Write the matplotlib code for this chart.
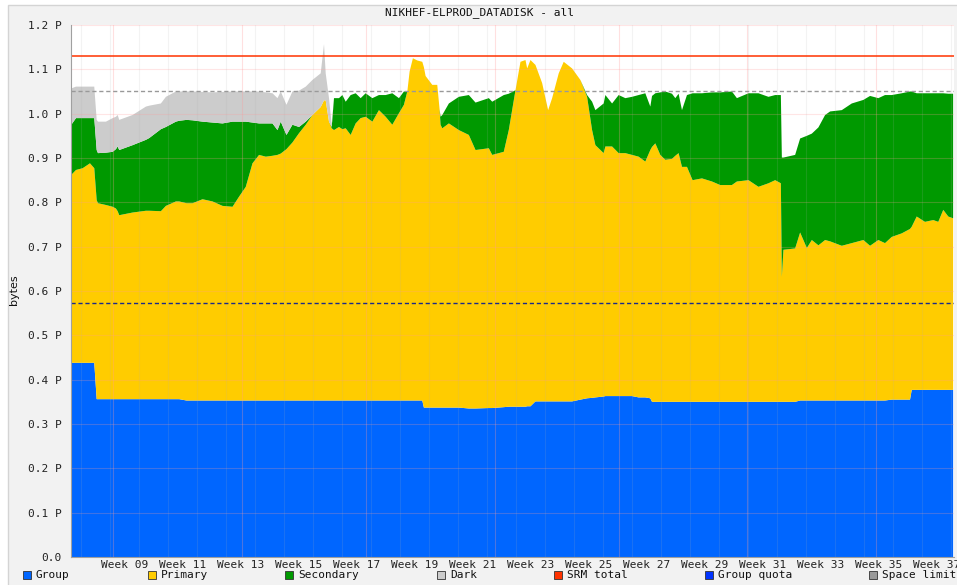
import numpy as np
import matplotlib
matplotlib.use("Agg")
import matplotlib.pyplot as plt
from matplotlib.patches import Rectangle

# ---------------- data (x in ISO week numbers, values in PB) ----------------
weeks = [7.169, 7.330, 7.561, 7.812, 7.960, 8.043, 8.088, 8.363, 8.594, 8.707,
         8.766, 8.821, 9.282, 9.740, 9.854, 10.256, 10.429, 10.773, 10.886, 11.141,
         11.348, 11.692, 12.036, 12.380, 12.725, 12.952, 13.182, 13.413, 13.640, 13.871,
         14.102, 14.274, 14.387, 14.584, 14.790, 15.017, 15.248, 15.478, 15.764, 15.878,
         15.936, 16.050, 16.143, 16.222, 16.394, 16.511, 16.625, 16.797, 16.969, 17.141,
         17.313, 17.544, 17.771, 18.002, 18.232, 18.460, 18.632, 18.749, 18.828, 18.941,
         19.093, 19.265, 19.320, 19.379, 19.609, 19.781, 19.861, 19.895, 19.954, 20.181,
         20.525, 20.869, 21.100, 21.558, 21.675, 22.074, 22.246, 22.477, 22.649, 22.821,
         22.880, 22.993, 23.165, 23.396, 23.602, 23.740, 23.967, 24.139, 24.428, 24.714,
         24.945, 25.117, 25.231, 25.516, 25.575, 25.806, 26.033, 26.263, 26.494, 26.721,
         26.952, 27.124, 27.183, 27.296, 27.468, 27.640, 27.871, 27.985, 28.098, 28.215,
         28.387, 28.580, 28.904, 29.248, 29.534, 29.936, 30.108, 30.508, 30.852, 31.196,
         31.427, 31.623, 31.657, 31.712, 32.115, 32.287, 32.518, 32.690, 32.917, 33.148,
         33.320, 33.723, 34.067, 34.466, 34.697, 34.983, 35.213, 35.444, 35.789, 36.074,
         36.133, 36.305, 36.590, 36.876, 37.048, 37.220, 37.393, 37.560]

group = [0.438, 0.438, 0.438, 0.438, 0.438, 0.356, 0.356, 0.356, 0.356, 0.356,
         0.356, 0.356, 0.356, 0.356, 0.356, 0.356, 0.356, 0.356, 0.356, 0.353,
         0.353, 0.353, 0.353, 0.353, 0.353, 0.353, 0.353, 0.353, 0.353, 0.353,
         0.353, 0.353, 0.353, 0.353, 0.353, 0.353, 0.353, 0.353, 0.353, 0.353,
         0.353, 0.353, 0.353, 0.353, 0.353, 0.353, 0.353, 0.353, 0.353, 0.353,
         0.353, 0.353, 0.353, 0.353, 0.353, 0.353, 0.353, 0.353, 0.353, 0.353,
         0.353, 0.353, 0.337, 0.337, 0.337, 0.337, 0.337, 0.337, 0.337, 0.337,
         0.337, 0.335, 0.335, 0.336, 0.336, 0.338, 0.339, 0.339, 0.339, 0.339,
         0.340, 0.340, 0.351, 0.351, 0.351, 0.351, 0.351, 0.351, 0.351, 0.355,
         0.358, 0.359, 0.360, 0.362, 0.363, 0.363, 0.363, 0.363, 0.363, 0.360,
         0.360, 0.358, 0.350, 0.350, 0.350, 0.350, 0.350, 0.350, 0.350, 0.350,
         0.350, 0.350, 0.350, 0.350, 0.350, 0.350, 0.350, 0.350, 0.350, 0.350,
         0.350, 0.350, 0.350, 0.350, 0.350, 0.353, 0.353, 0.353, 0.353, 0.353,
         0.353, 0.353, 0.353, 0.353, 0.353, 0.353, 0.353, 0.355, 0.355, 0.355,
         0.377, 0.377, 0.377, 0.377, 0.377, 0.377, 0.377, 0.377]

primary = [0.424, 0.435, 0.439, 0.450, 0.439, 0.449, 0.442, 0.438, 0.434, 0.430,
           0.424, 0.415, 0.421, 0.425, 0.425, 0.424, 0.436, 0.446, 0.446, 0.445,
           0.445, 0.454, 0.449, 0.439, 0.437, 0.460, 0.482, 0.535, 0.554, 0.550,
           0.552, 0.554, 0.557, 0.567, 0.582, 0.603, 0.622, 0.644, 0.662, 0.677,
           0.677, 0.629, 0.614, 0.610, 0.617, 0.612, 0.614, 0.599, 0.625, 0.637,
           0.640, 0.629, 0.655, 0.640, 0.622, 0.648, 0.667, 0.697, 0.742, 0.772,
           0.767, 0.764, 0.768, 0.748, 0.728, 0.728, 0.673, 0.638, 0.630, 0.641,
           0.626, 0.617, 0.583, 0.586, 0.571, 0.576, 0.624, 0.714, 0.778, 0.782,
           0.762, 0.781, 0.759, 0.718, 0.657, 0.684, 0.740, 0.766, 0.751, 0.721,
           0.680, 0.604, 0.569, 0.549, 0.563, 0.563, 0.548, 0.548, 0.544, 0.543,
           0.532, 0.560, 0.575, 0.583, 0.557, 0.546, 0.548, 0.555, 0.561, 0.530,
           0.530, 0.500, 0.504, 0.497, 0.489, 0.489, 0.497, 0.500, 0.485, 0.493,
           0.500, 0.493, 0.282, 0.343, 0.346, 0.379, 0.344, 0.362, 0.350, 0.362,
           0.359, 0.349, 0.355, 0.362, 0.349, 0.362, 0.355, 0.367, 0.375, 0.385,
           0.368, 0.391, 0.379, 0.383, 0.379, 0.406, 0.391, 0.387]

secondary = [0.113, 0.117, 0.113, 0.102, 0.113, 0.113, 0.113, 0.118, 0.124, 0.134,
             0.146, 0.147, 0.152, 0.160, 0.164, 0.185, 0.178, 0.180, 0.182, 0.188,
             0.187, 0.175, 0.178, 0.186, 0.192, 0.169, 0.147, 0.092, 0.071, 0.075,
             0.073, 0.056, 0.072, 0.032, 0.040, 0.014, 0.007, 0.000, 0.000, 0.000,
             0.000, 0.000, 0.003, 0.072, 0.065, 0.077, 0.060, 0.090, 0.068, 0.045,
             0.053, 0.053, 0.034, 0.049, 0.071, 0.034, 0.030, 0.000, 0.000, 0.000,
             0.000, 0.000, 0.000, 0.000, 0.000, 0.000, 0.000, 0.018, 0.030, 0.045,
             0.075, 0.090, 0.107, 0.113, 0.120, 0.128, 0.082, 0.000, 0.000, 0.000,
             0.000, 0.000, 0.000, 0.000, 0.000, 0.000, 0.000, 0.000, 0.000, 0.000,
             0.004, 0.064, 0.079, 0.112, 0.116, 0.097, 0.131, 0.124, 0.131, 0.139,
             0.154, 0.098, 0.115, 0.113, 0.141, 0.154, 0.147, 0.130, 0.134, 0.128,
             0.162, 0.196, 0.192, 0.201, 0.209, 0.211, 0.188, 0.196, 0.211, 0.195,
             0.192, 0.199, 0.269, 0.208, 0.211, 0.212, 0.253, 0.240, 0.266, 0.282,
             0.293, 0.306, 0.315, 0.316, 0.338, 0.320, 0.334, 0.320, 0.316, 0.310,
             0.305, 0.278, 0.290, 0.286, 0.290, 0.263, 0.277, 0.281]

dark = [0.082, 0.071, 0.071, 0.071, 0.071, 0.068, 0.071, 0.070, 0.076, 0.073,
        0.071, 0.068, 0.068, 0.075, 0.073, 0.058, 0.068, 0.068, 0.066, 0.064,
        0.065, 0.067, 0.068, 0.071, 0.068, 0.068, 0.068, 0.070, 0.072, 0.070,
        0.068, 0.072, 0.068, 0.068, 0.075, 0.082, 0.079, 0.079, 0.076, 0.127,
        0.061, 0.053, 0.005] + [0.0] * 105

srm_total = 1.130
space_limit = 1.052
group_quota = 0.572

title = "NIKHEF-ELPROD_DATADISK - all"
series_names = ["Group", "Primary", "Secondary", "Dark", "SRM total", "Group quota", "Space limit"]
series_colors = ["#0066ff", "#ffcc00", "#009900", "#cccccc", "#ff3300", "#0033ff", "#999999"]
yticks = [0.0, 0.1, 0.2, 0.3, 0.4, 0.5, 0.6, 0.7, 0.8, 0.9, 1.0, 1.1, 1.2]
ytick_labels = ["0.0", "0.1 P", "0.2 P", "0.3 P", "0.4 P", "0.5 P", "0.6 P", "0.7 P",
                "0.8 P", "0.9 P", "1.0 P", "1.1 P", "1.2 P"]
xticks = [9, 11, 13, 15, 17, 19, 21, 23, 25, 27, 29, 31, 33, 35, 37]
xtick_labels = ["Week %02d" % w for w in xticks]
month_starts = [8.611, 13.040, 17.326, 21.754, 26.040, 30.469, 34.897]
week_bounds = [w + 0.5 for w in range(7, 38)]

# ---------------- figure ----------------
W, H = 957, 585
fig = plt.figure(figsize=(W / 100, H / 100), dpi=100)
fig.patch.set_facecolor("white")
panel = Rectangle((8 / W, -0.01), 1.0, 1 - 5 / H + 0.01, transform=fig.transFigure,
                  facecolor="#f2f2f2", edgecolor="#d4d4d4", linewidth=1.0, zorder=-10)
fig.patches.append(panel)

ax = fig.add_axes([71 / W, 1 - 557 / H, (954 - 71) / W, (557 - 25) / H])
ax.set_zorder(1)
ax.set_facecolor("white")
mono = "DejaVu Sans Mono"

ax.stackplot(weeks, group, primary, secondary, dark,
             colors=series_colors[:4], linewidth=0, zorder=2)

# grid
for yv in yticks[1:]:
    ax.axhline(yv, color="#ff9a9a", lw=0.8, alpha=0.25, zorder=3)
for xv in week_bounds:
    ax.axvline(xv, color="#b0b0b0", lw=0.8, alpha=0.15, zorder=3)
for xv in month_starts:
    ax.axvline(xv, color="#ff9a9a", lw=0.8, alpha=0.3, zorder=3)

ax.axhline(srm_total, color=series_colors[4], lw=1.1, zorder=4)
ax.axhline(space_limit, color="#999999", lw=1.0, ls=(0, (3, 2)), zorder=4)
ax.axhline(group_quota, color="#1a2a8a", lw=1.0, ls=(0, (3, 2)), zorder=4)

ax.set_xlim(7.158, 37.59)
ax.set_ylim(0, 1.2)
ax.set_yticks(yticks)
ax.set_yticklabels(ytick_labels, family=mono, fontsize=8, color="#222222")
ax.set_xticks(xticks)
ax.set_xticklabels(xtick_labels, family=mono, fontsize=8, color="#222222")
ax.tick_params(axis="both", length=0)
ax.tick_params(axis="y", pad=7)
ax.tick_params(axis="x", pad=2)
for s in ["top", "right"]:
    ax.spines[s].set_visible(False)
ax.spines["left"].set_color("#a0a0a0")
ax.spines["bottom"].set_color("#a0a0a0")
ax.spines["left"].set_zorder(5)
ax.spines["bottom"].set_zorder(5)

fig.text(480 / W, 1 - 13 / H, title, family=mono, fontsize=8, ha="center", va="center",
         color="#111111")
fig.text(14 / W, 1 - 290 / H, "bytes", family="DejaVu Sans", fontsize=8, rotation=90,
         ha="center", va="center", color="#111111")

# legend
leg_x = [23, 148, 285, 437, 554, 705, 869]
ly = 574.5
for name, col, lx in zip(series_names, series_colors, leg_x):
    fig.patches.append(Rectangle((lx / W, 1 - (ly + 4) / H), 8 / W, 8 / H,
                                 transform=fig.transFigure, facecolor=col,
                                 edgecolor="#333333", linewidth=0.6, zorder=5))
    fig.text((lx + 13) / W, 1 - ly / H, name, family=mono, fontsize=8,
             ha="left", va="center", color="#111111")

fig.savefig("out.png", dpi=100)
